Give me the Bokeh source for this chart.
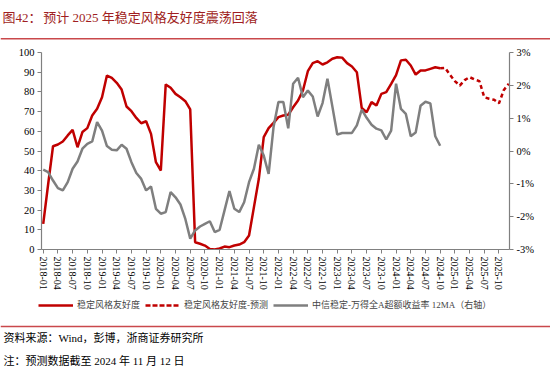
from bokeh.plotting import figure
from bokeh.layouts import column, row
from bokeh.models import (Range1d, LinearAxis, FixedTicker, Label, BoxAnnotation,
                          Legend, LegendItem)
from bokeh.embed import file_html
from bokeh.resources import INLINE

# ---------------- data ----------------
tick_labels = ["2018-01", "2018-04", "2018-07", "2018-10", "2019-01", "2019-04", "2019-07", "2019-10",
               "2020-01", "2020-04", "2020-07", "2020-10", "2021-01", "2021-04", "2021-07", "2021-10",
               "2022-01", "2022-04", "2022-07", "2022-10", "2023-01", "2023-04", "2023-07", "2023-10",
               "2024-01", "2024-04", "2024-07", "2024-10", "2025-01", "2025-04", "2025-07", "2025-10"]

# monthly, 2018-01 .. 2024-10
friendliness = [13, 33, 52.4, 53.3, 54.8, 57.9, 60.7, 51.9, 59.6, 61.6, 68, 71.4,
                77.3, 88.3, 87.1, 84.6, 81.2, 72.6, 70.2, 66.8, 64.1, 65.1, 58.7, 44.3,
                40.1, 83.8, 82.1, 79, 77.3, 75.3, 71.1, 3.7, 2.9, 2, 0.3, 0,
                0.5, 1.5, 1.2, 2, 2.5, 3.7, 7.1, 21.5, 35.9, 57, 61.6, 64.3,
                67.2, 68, 68.4, 72.2, 75.6, 80.7, 90.5, 94.6, 95.6, 93.9, 95, 96.8,
                97.6, 97.4, 94.6, 92.9, 90, 71.8, 69.7, 74.8, 73.1, 79, 79.9, 84.1,
                88.5, 96, 96.3, 93.4, 88.8, 90.9, 90.9, 91.7, 92.5, 92]

# forecast, 2024-10 .. 2025-12
friendliness_fc = [92, 92.2, 88.7, 85.5, 83.2, 86, 87.5, 86.3, 85.5, 77.3, 76.5, 76, 74.2, 81, 84.1]

# 中信稳定-万得全A超额收益率 12MA (%), 2018-01 .. 2024-10
excess_12ma = [-0.57, -0.64, -0.9, -1.13, -1.2, -0.95, -0.54, -0.32, 0.07, 0.22, 0.29, 0.88,
               0.62, 0.15, 0.04, 0.02, 0.19, 0.07, -0.34, -0.67, -0.85, -1.2, -1.08, -1.76,
               -1.91, -1.86, -1.25, -1.41, -1.63, -2.07, -2.67, -2.42, -2.3, -2.22, -2.14, -2.47,
               -2.4, -1.81, -1.22, -1.76, -1.86, -1.56, -0.95, -0.54, 0.19, -0.14, -0.7, 0.73,
               1.49, 1.49, 0.69, 2.05, 2.23, 1.64, 1.84, 1.66, 1.05, 1.46, 2.2, 1.36,
               0.5, 0.55, 0.55, 0.55, 0.78, 1.26, 1.01, 0.8, 0.68, 0.63, 0.35, 0.62,
               2.05, 1.28, 1.13, 0.45, 0.56, 1.38, 1.5, 1.45, 0.45, 0.16]

m_actual = list(range(len(friendliness)))
m_fc = list(range(len(friendliness) - 1, len(friendliness) - 1 + len(friendliness_fc)))
m_excess = list(range(len(excess_12ma)))
tick_pos = [3 * i for i in range(len(tick_labels))]

RED = "#c00000"
GRAY = "#7f7f7f"
AXIS = "#808080"
NUM_FONT = "Liberation Serif"
MIX_FONT = "Liberation Serif, Noto Sans CJK SC"
TITLE_C = "#a01e22"
RULE_C = "#c9484b"
W = 550


def blank(height, y_top, y_bottom):
    f = figure(width=W, height=height, output_backend="svg", toolbar_location=None, title=None,
               x_axis_type=None, y_axis_type=None,
               x_range=Range1d(0, W), y_range=Range1d(y_bottom, y_top),
               min_border=0, min_border_left=0, min_border_right=0,
               min_border_top=0, min_border_bottom=0)
    f.grid.visible = False
    f.outline_line_color = None
    return f


# ---------------- header ----------------
head = blank(44, 0, 44)
head.add_layout(Label(x=2, y=17, text="图42：", text_font=MIX_FONT, text_font_size="13px",
                      text_color=TITLE_C, text_baseline="middle"))
head.add_layout(Label(x=42.7, y=17, text="预计 2025 年稳定风格友好度震荡回落", text_font=MIX_FONT,
                      text_font_size="13px", text_color=TITLE_C, text_baseline="middle"))
head.add_layout(BoxAnnotation(left=0, right=W, top=37.6, bottom=39.1,
                              fill_color=RULE_C, fill_alpha=1, line_color=None))

# ---------------- main chart ----------------
p = figure(width=W, height=251, output_backend="svg", toolbar_location=None, title=None,
           x_range=Range1d(-0.35, 95.15), y_range=Range1d(0, 100),
           min_border_left=41, min_border_right=41, min_border_top=8, min_border_bottom=46)
p.extra_y_ranges = {"r": Range1d(-3, 3)}
p.grid.visible = False
p.outline_line_color = None

p.line(m_actual, friendliness, color=RED, line_width=2.5)
p.line(m_fc, friendliness_fc, color=RED, line_width=2.5, line_dash="4 3")
p.line(m_excess, excess_12ma, color=GRAY, line_width=2.5, y_range_name="r")

right = LinearAxis(y_range_name="r")
p.add_layout(right, "right")

for ax in [p.xaxis[0], p.yaxis[0], right]:
    ax.axis_line_color = AXIS
    ax.axis_line_width = 1.2
    ax.major_tick_line_color = AXIS
    ax.minor_tick_line_color = None
    ax.major_tick_in = 0
    ax.major_tick_out = 4
    ax.major_label_text_font = NUM_FONT
    ax.major_label_text_font_size = "10.5px"
    ax.major_label_text_color = "black"
    ax.major_label_standoff = 3

p.yaxis[0].ticker = FixedTicker(ticks=list(range(0, 101, 10)))
right.ticker = FixedTicker(ticks=[-3, -2, -1, 0, 1, 2, 3])
right.major_label_overrides = {v: f"{v}%" for v in [-3, -2, -1, 0, 1, 2, 3]}
p.xaxis[0].ticker = FixedTicker(ticks=tick_pos)
p.xaxis[0].major_label_overrides = {pos: lab for pos, lab in zip(tick_pos, tick_labels)}
p.xaxis[0].major_label_orientation = "vertical"
p.xaxis[0].major_label_text_font_size = "10px"

# ---------------- footer (legend + source) ----------------
# legend swatches: the same series drawn in the footer's own scale (they fall outside its frame)
foot = blank(78, 295, 373)
k1 = foot.line(m_actual, friendliness, color=RED, line_width=2.5)
k2 = foot.line(m_fc, friendliness_fc, color=RED, line_width=2.5, line_dash="5 2")
k3 = foot.line(m_excess, excess_12ma, color=GRAY, line_width=2.5)
legend = Legend(items=[LegendItem(label="稳定风格友好度", renderers=[k1]),
                       LegendItem(label="稳定风格友好度-预测", renderers=[k2]),
                       LegendItem(label="中信稳定-万得全A超额收益率 12MA（右轴）", renderers=[k3])],
                orientation="horizontal", location=(38, 62),
                glyph_width=35, glyph_height=12, label_standoff=4, spacing=5,
                padding=0, margin=0, border_line_color=None, background_fill_alpha=0,
                label_text_font=MIX_FONT, label_text_font_size="9px", label_height=12)
foot.add_layout(legend, "center")
foot.add_layout(BoxAnnotation(left=0, right=W, top=325.3, bottom=326.8,
                              fill_color=RULE_C, fill_alpha=1, line_color=None))
foot.add_layout(Label(x=3, y=337, text="资料来源：Wind，彭博，浙商证券研究所", text_font=MIX_FONT,
                      text_font_size="11px", text_color="black", text_baseline="middle"))
foot.add_layout(Label(x=3, y=360, text="注：预测数据截至 2024 年 11 月 12 日", text_font=MIX_FONT,
                      text_font_size="11px", text_color="black", text_baseline="middle"))

layout = column(row(head), p, row(foot), spacing=0)
open("out.html", "w").write(file_html(layout, INLINE))
